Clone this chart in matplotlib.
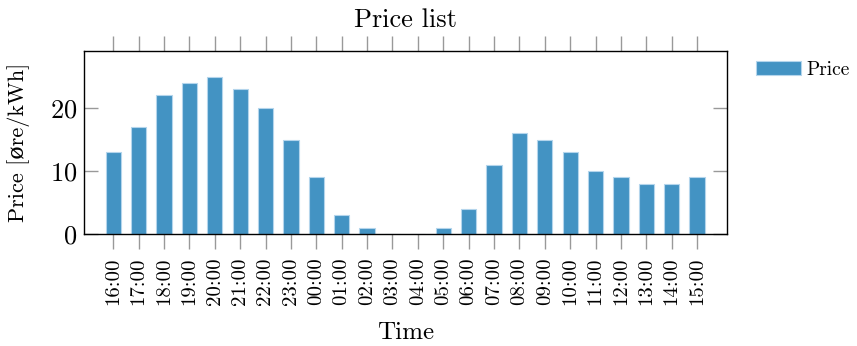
import matplotlib.pyplot as plt
import numpy as np

hours = ['16:00', '17:00', '18:00', '19:00', '20:00', '21:00', '22:00', '23:00',
         '00:00', '01:00', '02:00', '03:00', '04:00', '05:00', '06:00', '07:00',
         '08:00', '09:00', '10:00', '11:00', '12:00', '13:00', '14:00', '15:00']
price = [13, 17, 22, 24, 25, 23, 20, 15, 9, 3, 1, 0, 0, 1, 4, 11,
         16, 15, 13, 10, 9, 8, 8, 9]

plt.rcParams['font.family'] = ['cmr10', 'DejaVu Serif']
plt.rcParams['mathtext.fontset'] = 'cm'
plt.rcParams['axes.formatter.use_mathtext'] = True

fig = plt.figure(figsize=(8.57, 3.46), dpi=100)
ax = fig.add_axes([84 / 857, 1 - 234 / 346, (727 - 84) / 857, (234 - 51) / 346])

x = np.arange(len(hours))
ax.bar(x, price, width=0.6, color='#4393c3', edgecolor='#b4d5ec',
       linewidth=0.8, label='Price')

ax.set_xlim(-1.15, len(hours) - 1 + 1.18)
ax.set_ylim(0, 29.05)
ax.set_xticks(x)
ax.set_xticklabels(hours, rotation=90, fontsize=15)
ax.set_yticks([0, 10, 20])
ax.tick_params(axis='y', labelsize=19, direction='in', length=10,
               color='#999999', right=True, width=1, pad=5)
ax.tick_params(axis='x', direction='out', length=11, color='#999999',
               top=True, width=1, pad=6)

for s in ax.spines.values():
    s.set_linewidth(1)
    s.set_color('black')

ax.set_title('Price list', fontsize=19, pad=17)
ax.set_xlabel('Time', fontsize=18, labelpad=12)
ax.set_ylabel('Price [øre/kWh]', fontsize=16, labelpad=14)

ax.legend(loc='upper left', bbox_to_anchor=(1.033, 0.99), frameon=False,
          fontsize=14, handlelength=2.3, handleheight=0.8, handletextpad=0.3,
          borderaxespad=0)

fig.savefig('out.png', dpi=100)
